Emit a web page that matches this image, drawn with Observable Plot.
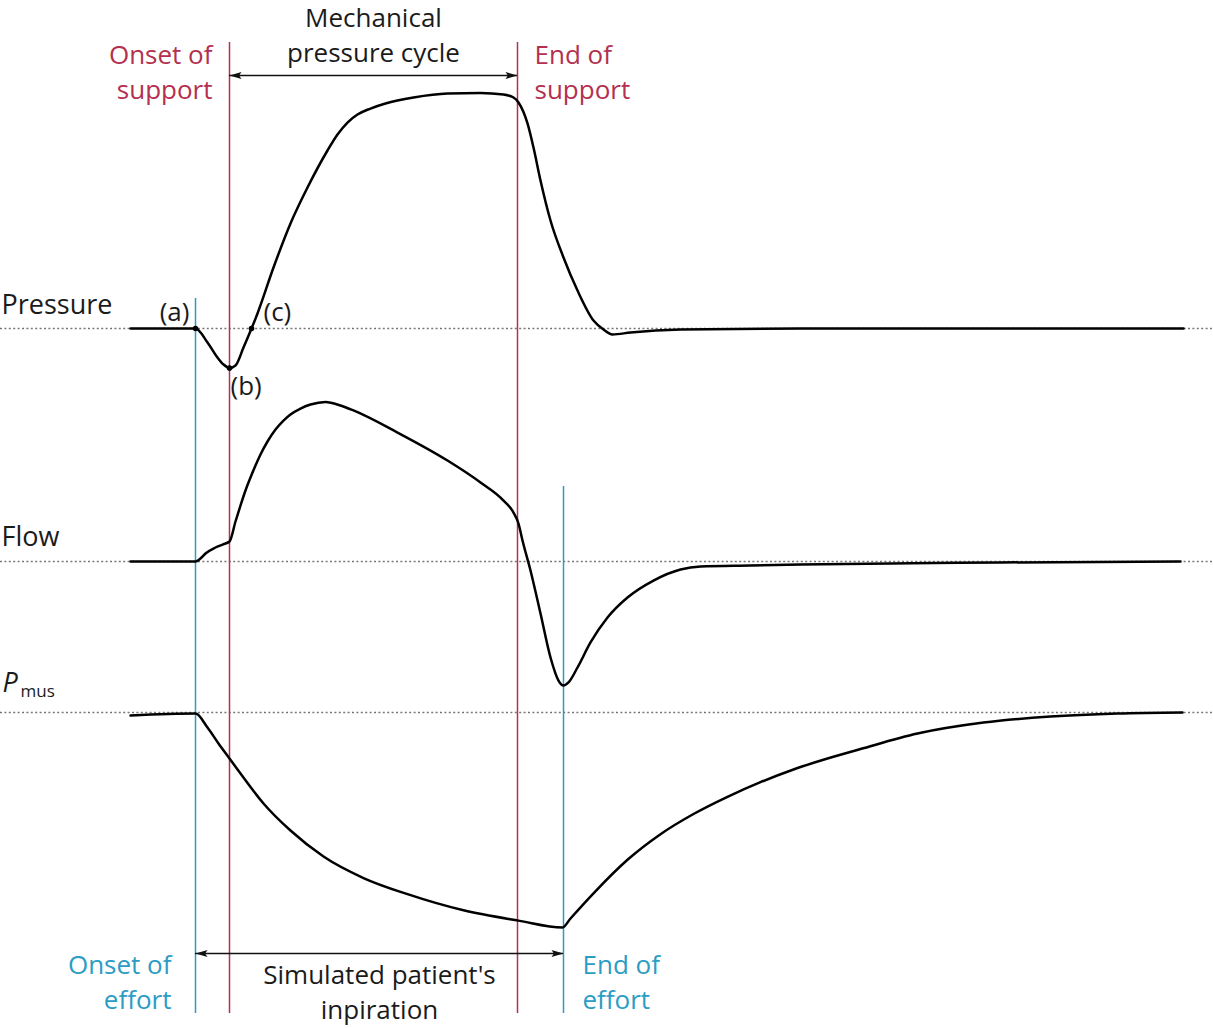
<!DOCTYPE html>
<html><head><meta charset="utf-8">
<script src="https://cdn.jsdelivr.net/npm/d3@7"></script>
<script src="https://cdn.jsdelivr.net/npm/@observablehq/plot@0.6"></script>
<style>
html,body{margin:0;padding:0;background:#fff;}
#chart{width:1213px;height:1028px;overflow:hidden;}
</style></head><body><div id="chart"></div>
<script>
// ---------- DATA (time in ms) ----------
const pressureTime  = [0,130,154,174,186,198,210,226,242,254,286,320,354,394,414,434,454,480,510,566,634,700,746,766,776,794,806,820,840,866,894,926,946,964,1000,1100,1340,1740,2106];
const pressureValue = [0,0,-1.19,-2.47,-3.06,-3.36,-3.15,-1.62,0,1.28,5.19,8.94,12.0,15.15,16.51,17.53,18.21,18.72,19.15,19.66,20.0,20.04,19.91,19.66,19.23,17.45,15.40,12.60,9.19,6.04,3.23,0.68,-0.09,-0.51,-0.34,-0.09,0,0,0]; // cmH2O

const flowTime  = [0,130,140,150,170,184,198,210,220,230,240,250,260,274,290,306,320,340,360,390,420,446,534,634,700,746,766,776,784,800,820,840,856,866,876,894,920,954,994,1046,1100,1140,1240,1340,1740,2100];
const flowValue = [0,0,0.019,0.05,0.0875,0.106,0.125,0.25,0.35,0.444,0.525,0.6,0.669,0.75,0.825,0.881,0.919,0.956,0.981,0.997,0.975,0.944,0.806,0.631,0.494,0.381,0.306,0.2375,0.131,-0.056,-0.325,-0.6,-0.744,-0.775,-0.756,-0.6625,-0.506,-0.35,-0.225,-0.119,-0.05,-0.031,-0.025,-0.019,-0.006,0]; // L/s

const pmusTime  = [0,130,154,176,198,220,266,320,386,466,554,666,776,864,880,926,994,1060,1126,1194,1260,1326,1394,1460,1574,1706,1840,1974,2104];
const pmusValue = [-0.14,-0.05,-0.70,-1.44,-2.14,-2.84,-4.23,-5.49,-6.70,-7.70,-8.45,-9.20,-9.68,-10.0,-9.58,-8.41,-6.85,-5.66,-4.72,-3.92,-3.24,-2.65,-2.14,-1.70,-0.98,-0.47,-0.19,-0.05,0]; // cmH2O

const eventNames = ["Onset of effort", "Onset of support", "End of support", "End of effort"];
const eventKinds = ["effort", "support", "support", "effort"];
const eventTime  = [130, 198, 774, 866];

const pointLabels = ["(a)", "(b)", "(c)"];
const pointTime   = [130, 198, 242];
const pointValue  = [0, -3.36, 0];

const traceNames = ["Pressure", "Flow", "P", "mus"];

// ---------- LAYOUT ----------
const W = 1213, H = 1028;
const RED = "#b3304f", BLUE = "#2b9cc4", INK = "#1b1b1b";
const FONT = "'Open Sans', 'Noto Sans', sans-serif";
const FS = 26;
const rows = {Pressure: {base: 328, gain: 11.75}, Flow: {base: 561, gain: 160}, Pmus: {base: 712, gain: 21.5}};
const ruleSpan = {effortStart: [298, 1013], support: [42, 1013], effortEnd: [486, 1013]};

const toRows = (name, ts, vs) => ts.map((t, i) => ({trace: name, t, y: rows[name].base - rows[name].gain * vs[i]}));
const traces = [
  ...toRows("Pressure", pressureTime, pressureValue),
  ...toRows("Flow", flowTime, flowValue),
  ...toRows("Pmus", pmusTime, pmusValue)
];
const points = pointLabels.map((l, i) => ({label: l, t: pointTime[i], y: rows.Pressure.base - rows.Pressure.gain * pointValue[i]}));
const events = eventNames.map((n, i) => {
  const span = eventKinds[i] === "support" ? ruleSpan.support : (i === 0 ? ruleSpan.effortStart : ruleSpan.effortEnd);
  return {name: n, kind: eventKinds[i], t: eventTime[i], y1: span[0], y2: span[1]};
});
const [tOnsetEffort, tOnsetSupport, tEndSupport, tEndEffort] = eventTime;

// arrowhead symbols (tip at origin)
const headRight = {draw(ctx, size) { const r = Math.sqrt(size / Math.PI); ctx.moveTo(0, 0); ctx.lineTo(-2 * r, -0.6 * r); ctx.lineTo(-1.6 * r, 0); ctx.lineTo(-2 * r, 0.6 * r); ctx.closePath(); }};
const headLeft = {draw(ctx, size) { const r = Math.sqrt(size / Math.PI); ctx.moveTo(0, 0); ctx.lineTo(2 * r, -0.6 * r); ctx.lineTo(1.6 * r, 0); ctx.lineTo(2 * r, 0.6 * r); ctx.closePath(); }};

const arrows = [
  {y: 75, x1: tOnsetSupport, x2: tEndSupport},
  {y: 953, x1: tOnsetEffort, x2: tEndEffort}
];

const labels = [
  {t: (tOnsetSupport + tEndSupport) / 2, y: 33, text: "Mechanical\npressure cycle", anchor: "middle", dx: 0, fill: INK},
  {t: tOnsetSupport, y: 69.5, text: "Onset of\nsupport", anchor: "end", dx: -17, fill: RED},
  {t: tEndSupport, y: 69.5, text: "End of\nsupport", anchor: "start", dx: 17, fill: RED},
  {t: tOnsetEffort, y: 980, text: "Onset of\neffort", anchor: "end", dx: -24, fill: BLUE},
  {t: tEndEffort, y: 980, text: "End of\neffort", anchor: "start", dx: 19, fill: BLUE},
  {t: (tOnsetEffort + tEndEffort) / 2, y: 990, text: "Simulated patient's\ninpiration", anchor: "middle", dx: 0, fill: INK}
];

const pointText = [
  {t: pointTime[0], y: 309, text: pointLabels[0], anchor: "end", dx: -6},
  {t: pointTime[1], y: 383, text: pointLabels[1], anchor: "start", dx: 1},
  {t: pointTime[2], y: 309, text: pointLabels[2], anchor: "start", dx: 12}
];

const textMark = (d, extra = {}) => Plot.text([d], {
  x: "t", y: "y", text: "text", textAnchor: d.anchor, dx: d.dx,
  fill: d.fill || INK, fontSize: FS, lineHeight: 1.35, fontFamily: FONT, ...extra
});

const chart = Plot.plot({
  width: W, height: H,
  margin: 0,
  x: {domain: [0, 2106], range: [130, 1183], axis: null},
  y: {domain: [0, H], range: [0, H], axis: null},
  style: {fontFamily: FONT, background: "#fff"},
  marks: [
    Plot.ruleY(Object.values(rows), {y: "base", stroke: "#777", strokeWidth: 1.3, strokeDasharray: "2,2.4"}),
    Plot.ruleX(events, {x: "t", y1: "y1", y2: "y2", stroke: d => d.kind === "support" ? RED : BLUE, strokeWidth: 1.5}),
    Plot.line(traces, {x: "t", y: "y", z: "trace", stroke: "#000", strokeWidth: 2.5, curve: "monotone-x"}),
    Plot.dot(points, {x: "t", y: "y", r: 2.8, fill: "#000", stroke: null}),
    Plot.ruleY(arrows, {y: "y", x1: "x1", x2: "x2", stroke: "#111", strokeWidth: 1.6}),
    Plot.dot(arrows, {x: "x2", y: "y", symbol: headRight, r: 6, fill: "#111", stroke: null}),
    Plot.dot(arrows, {x: "x1", y: "y", symbol: headLeft, r: 6, fill: "#111", stroke: null}),
    ...labels.map(d => textMark(d)),
    ...pointText.map(d => textMark(d)),
    Plot.text([{y: 305, text: traceNames[0]}], {frameAnchor: "left", y: "y", text: "text", dx: 1, fill: INK, fontSize: 27, textAnchor: "start", fontFamily: FONT}),
    Plot.text([{y: 537, text: traceNames[1]}], {frameAnchor: "left", y: "y", text: "text", dx: 1, fill: INK, fontSize: 27, textAnchor: "start", fontFamily: FONT}),
    Plot.text([{y: 683, text: traceNames[2]}], {frameAnchor: "left", y: "y", text: "text", dx: 2, fill: INK, fontSize: 27, fontStyle: "italic", textAnchor: "start", fontFamily: FONT}),
    Plot.text([{y: 691, text: traceNames[3]}], {frameAnchor: "left", y: "y", text: "text", dx: 20, fill: INK, fontSize: 17, textAnchor: "start", fontFamily: FONT})
  ]
});
document.getElementById("chart").appendChild(chart);
</script>
</body></html>
